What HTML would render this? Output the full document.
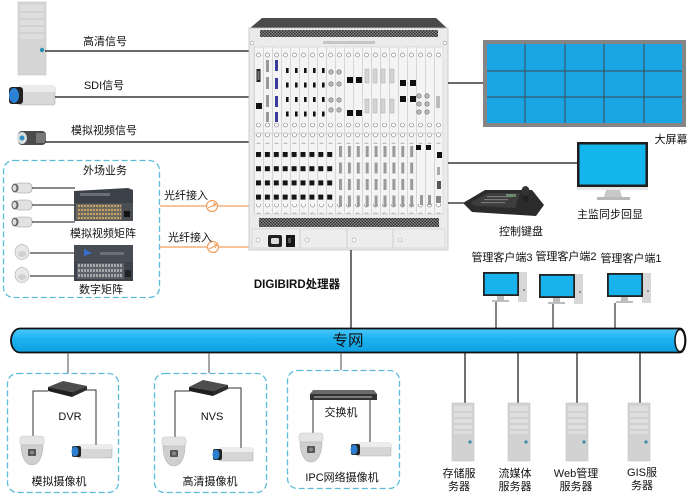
<!DOCTYPE html>
<html><head><meta charset="utf-8"><style>
html,body{margin:0;padding:0;background:#fff;}
svg{display:block;}
text{font-family:"Liberation Sans","Noto Sans CJK SC",sans-serif;font-size:11px;fill:#111;}
</style></head><body>
<svg width="693" height="500" viewBox="0 0 693 500" xmlns="http://www.w3.org/2000/svg">
<defs>
<pattern id="vent" width="3" height="3" patternUnits="userSpaceOnUse"><rect width="3" height="3" fill="#8a8a8a"/><rect width="1.5" height="1.5" fill="#2e2e2e"/><rect x="1.5" y="1.5" width="1.5" height="1.5" fill="#2e2e2e"/></pattern>
<pattern id="slots" x="254" y="0" width="9" height="10" patternUnits="userSpaceOnUse"><rect width="9" height="10" fill="#f4f4f4"/><rect width="0.8" height="10" fill="#cfcfcf"/></pattern>
<pattern id="screw" x="254" y="0" width="9" height="10" patternUnits="userSpaceOnUse"><circle cx="4.5" cy="5" r="2" fill="#fff" stroke="#8a8a8a" stroke-width="0.7"/></pattern>
<pattern id="bport" x="256" y="152" width="8.9" height="14.2" patternUnits="userSpaceOnUse"><rect width="5" height="5" fill="#151515"/></pattern>
<pattern id="dvi" x="339" y="146" width="8.9" height="16.5" patternUnits="userSpaceOnUse"><rect width="3" height="11" fill="#9a9a9a"/></pattern>
<pattern id="sport" x="286" y="68" width="9" height="14.5" patternUnits="userSpaceOnUse"><rect width="2.6" height="5" fill="#111"/></pattern>
<pattern id="mdots" x="78" y="205" width="3" height="4" patternUnits="userSpaceOnUse"><rect width="2" height="2" fill="#c9a064"/></pattern>
<pattern id="ddots" x="78" y="264" width="3" height="5" patternUnits="userSpaceOnUse"><rect width="2" height="3" fill="#a8a8a8"/></pattern>
<linearGradient id="pipe" x1="0" y1="0" x2="0" y2="1"><stop offset="0" stop-color="#4cc8fb"/><stop offset="0.45" stop-color="#1cb2f0"/><stop offset="1" stop-color="#0e9fe0"/></linearGradient>
<g id="server"><rect x="0" y="0" width="22" height="58" fill="#d2d2d2" stroke="#c4c4c4" stroke-width="0.6"/><rect x="2" y="3" width="18" height="28" fill="#dedede"/><line x1="2" y1="9" x2="20" y2="9" stroke="#c2c2c2"/><line x1="2" y1="15" x2="20" y2="15" stroke="#c2c2c2"/><line x1="2" y1="21" x2="20" y2="21" stroke="#c2c2c2"/><line x1="2" y1="27" x2="20" y2="27" stroke="#c2c2c2"/><circle cx="18" cy="39" r="1.6" fill="#3a8aa8"/></g>
<g id="dome"><rect x="0" y="0" width="24" height="9" rx="3" fill="#e4e4e4" stroke="#c8c8c8" stroke-width="0.6"/><path d="M1,9 H23 C23,22 18,29 12,29 C6,29 1,22 1,9 Z" fill="#cfcfcf" stroke="#b5b5b5" stroke-width="0.6"/><rect x="8" y="13" width="8" height="7" rx="1" fill="#555"/><circle cx="12" cy="16.5" r="2" fill="#888"/></g>
<g id="boxcam"><rect x="7" y="0" width="34" height="13" rx="1.5" fill="#d6d6d6" stroke="#b0b0b0" stroke-width="0.6"/><rect x="7" y="0" width="34" height="4" fill="#ececec"/><rect x="1" y="1" width="9" height="11" rx="2" fill="#222"/><ellipse cx="4" cy="6.5" rx="3.5" ry="5" fill="#2c7fd0"/></g>
<g id="client"><rect x="35" y="0" width="9" height="30" fill="#d8d8d8"/><circle cx="41" cy="18" r="1" fill="#777"/><rect x="0" y="0" width="36" height="24" fill="#222"/><rect x="1.8" y="1.8" width="32.4" height="20.4" fill="#18b2ec"/><rect x="14" y="24" width="7" height="4" fill="#bdbdbd"/><rect x="9" y="28" width="17" height="2" fill="#bdbdbd"/></g>
<g id="bullet"><rect x="4" y="0" width="17" height="10" rx="4" fill="#e2e2e2" stroke="#9a9a9a" stroke-width="0.6"/><ellipse cx="4" cy="5" rx="3.5" ry="4.5" fill="#666"/><ellipse cx="3.5" cy="5" rx="2" ry="3" fill="#ddd"/></g>
<g id="smalldome"><ellipse cx="7" cy="7" rx="7" ry="7.5" fill="#e8e8e8" stroke="#b5b5b5" stroke-width="0.7"/><ellipse cx="7" cy="9" rx="4" ry="3" fill="#d0d0d0"/></g>
</defs>

<!-- ===== Top-left sources ===== -->
<rect x="18" y="2" width="28" height="73" fill="#d5d5d5" stroke="#c3c3c3" stroke-width="0.6"/>
<rect x="20" y="5" width="24" height="34" fill="#dedede"/>
<line x1="20" y1="12" x2="44" y2="12" stroke="#c6c6c6"/><line x1="20" y1="19" x2="44" y2="19" stroke="#c6c6c6"/><line x1="20" y1="26" x2="44" y2="26" stroke="#c6c6c6"/><line x1="20" y1="33" x2="44" y2="33" stroke="#c6c6c6"/>
<circle cx="42" cy="50" r="2.2" fill="#2f8fb0"/>
<line x1="45" y1="51" x2="249" y2="51" stroke="#111" stroke-width="1.2"/>
<text x="105" y="42" text-anchor="middle" dominant-baseline="central">高清信号</text>

<rect x="18" y="86" width="37" height="19" rx="2" fill="#d8d8d8" stroke="#aaa" stroke-width="0.6"/>
<rect x="18" y="86" width="37" height="6" fill="#ececec"/>
<rect x="9" y="87" width="14" height="17" rx="3" fill="#222"/>
<ellipse cx="14" cy="95.5" rx="5" ry="7.5" fill="#2c82d4"/>
<line x1="55" y1="97" x2="249" y2="97" stroke="#111" stroke-width="1.2"/>
<text x="104" y="86" text-anchor="middle" dominant-baseline="central">SDI信号</text>

<rect x="18" y="131" width="28" height="14" rx="4" fill="#4b4b4b"/>
<rect x="36" y="133" width="10" height="10" fill="#777"/>
<ellipse cx="22" cy="138" rx="5" ry="6" fill="#d6dede"/>
<circle cx="22" cy="138" r="2.5" fill="#2e8fc0"/>
<line x1="45" y1="142" x2="249" y2="142" stroke="#111" stroke-width="1.2"/>
<text x="104" y="131" text-anchor="middle" dominant-baseline="central">模拟视频信号</text>

<!-- ===== Field box ===== -->
<rect x="3.5" y="160.5" width="156" height="137" rx="10" fill="none" stroke="#5bbdd6" stroke-width="1.3" stroke-dasharray="6 3"/>
<text x="105" y="171" text-anchor="middle" dominant-baseline="central">外场业务</text>
<use href="#bullet" x="11" y="183"/>
<use href="#bullet" x="11" y="200"/>
<use href="#bullet" x="11" y="217"/>
<line x1="32" y1="188" x2="75" y2="188" stroke="#111"/>
<line x1="32" y1="205" x2="75" y2="205" stroke="#111"/>
<line x1="32" y1="222" x2="75" y2="222" stroke="#111"/>
<!-- analog matrix -->
<polygon points="74,191 128,188 133,190 133,204 74,204" fill="#3c4048"/>
<rect x="80" y="193" width="30" height="3" fill="#6a6e76"/>
<rect x="74" y="203" width="59" height="18" fill="#4a4d52"/>
<rect x="76" y="204" width="46" height="16" fill="#6d6a62"/>
<rect x="78" y="205" width="43" height="14" fill="url(#mdots)"/>
<rect x="124" y="211" width="6" height="6" fill="#111"/>
<text x="103" y="234" text-anchor="middle" dominant-baseline="central">模拟视频矩阵</text>
<use href="#smalldome" x="15" y="245"/>
<use href="#smalldome" x="15" y="268"/>
<line x1="30" y1="253" x2="75" y2="253" stroke="#111"/>
<line x1="30" y1="276" x2="75" y2="276" stroke="#111"/>
<!-- digital matrix -->
<rect x="74" y="245" width="59" height="36" fill="#3e434b"/>
<rect x="74" y="245" width="59" height="17" fill="#474c55"/>
<polygon points="84,249 92,253 84,256" fill="#3a6fd0"/>
<rect x="100" y="252" width="24" height="3" fill="#6a6f78"/>
<rect x="77" y="263" width="47" height="16" fill="#5c6068"/>
<rect x="78" y="264" width="45" height="14" fill="url(#ddots)"/>
<rect x="125" y="270" width="6" height="7" fill="#222"/>
<text x="101" y="290" text-anchor="middle" dominant-baseline="central">数字矩阵</text>

<!-- fiber -->
<line x1="160" y1="206" x2="249" y2="206" stroke="#f0a060" stroke-width="1.3"/>
<line x1="160" y1="247" x2="249" y2="247" stroke="#f0a060" stroke-width="1.3"/>
<circle cx="212" cy="206" r="5.5" fill="#fff" stroke="#f0a060" stroke-width="1.2"/>
<line x1="208" y1="208" x2="216" y2="204" stroke="#f0a060" stroke-width="1.1"/><polyline points="213,203 216,204 214,207" fill="none" stroke="#f0a060"/>
<circle cx="213" cy="247" r="5.5" fill="#fff" stroke="#f0a060" stroke-width="1.2"/>
<line x1="209" y1="249" x2="217" y2="245" stroke="#f0a060" stroke-width="1.1"/><polyline points="214,244 217,245 215,248" fill="none" stroke="#f0a060"/>
<text x="186" y="196" text-anchor="middle" dominant-baseline="central">光纤接入</text>
<text x="190" y="238" text-anchor="middle" dominant-baseline="central">光纤接入</text>

<!-- ===== Processor ===== -->
<polygon points="262,18 436,18 448,29 249,29" fill="#4a4a4a"/>
<rect x="249" y="28" width="199" height="222" fill="#ebebeb" stroke="#c4c4c4" stroke-width="0.8"/>
<rect x="260" y="30" width="178" height="7" fill="url(#vent)"/>
<rect x="323" y="41" width="52" height="3" fill="#c6c6c6"/>
<circle cx="252" cy="43" r="1.8" fill="#fff" stroke="#999" stroke-width="0.6"/><circle cx="445" cy="43" r="1.8" fill="#fff" stroke="#999" stroke-width="0.6"/>
<rect x="254" y="47" width="189" height="86" fill="url(#slots)" stroke="#d0d0d0" stroke-width="0.6"/>
<rect x="254" y="134" width="189" height="80" fill="url(#slots)" stroke="#d0d0d0" stroke-width="0.6"/>
<rect x="254" y="48" width="189" height="10" fill="url(#screw)"/>
<rect x="254" y="123" width="189" height="10" fill="url(#screw)"/>
<rect x="254" y="134" width="189" height="10" fill="url(#screw)"/>
<rect x="254" y="204" width="189" height="10" fill="url(#screw)"/>
<!-- upper ports -->
<rect x="256.5" y="69" width="4" height="13" fill="#222"/><rect x="257.5" y="71" width="2" height="9" fill="#777"/>
<rect x="256" y="103" width="6" height="6" fill="#111"/>
<rect x="266" y="60" width="3" height="12" fill="#999"/><rect x="266" y="77" width="3" height="12" fill="#999"/><rect x="266" y="95" width="3" height="12" fill="#999"/><rect x="266" y="112" width="3" height="10" fill="#999"/>
<rect x="275" y="60" width="3" height="11" fill="#3b3b9c"/><rect x="275" y="78" width="3" height="11" fill="#3b3b9c"/><rect x="275" y="96" width="3" height="11" fill="#3b3b9c"/><rect x="275" y="112" width="3" height="10" fill="#3b3b9c"/>
<rect x="285" y="68" width="45" height="52" fill="url(#sport)"/>
<g fill="#bbb" stroke="#666" stroke-width="0.6"><circle cx="331" cy="72" r="2.2"/><circle cx="339" cy="72" r="2.2"/><circle cx="331" cy="84" r="2.2"/><circle cx="339" cy="84" r="2.2"/><circle cx="331" cy="100" r="2.2"/><circle cx="339" cy="100" r="2.2"/><circle cx="331" cy="110" r="2.2"/><circle cx="339" cy="110" r="2.2"/></g>
<rect x="347" y="77" width="6" height="6" fill="#111"/><rect x="356" y="77" width="6" height="6" fill="#111"/>
<rect x="347" y="110" width="6" height="6" fill="#111"/><rect x="356" y="110" width="6" height="6" fill="#111"/>
<g fill="#d4d4d4" stroke="#aaa" stroke-width="0.5"><rect x="365" y="69" width="4" height="14"/><rect x="373" y="69" width="4" height="14"/><rect x="381" y="69" width="4" height="14"/><rect x="390" y="69" width="4" height="14"/><rect x="365" y="99" width="4" height="14"/><rect x="373" y="99" width="4" height="14"/><rect x="381" y="99" width="4" height="14"/><rect x="390" y="99" width="4" height="14"/></g>
<rect x="400" y="80" width="6" height="6" fill="#111"/><rect x="410" y="80" width="6" height="6" fill="#111"/>
<rect x="400" y="96" width="6" height="6" fill="#111"/><rect x="410" y="96" width="6" height="6" fill="#111"/>
<g fill="#bbb" stroke="#666" stroke-width="0.6"><circle cx="419" cy="96" r="2.2"/><circle cx="427" cy="96" r="2.2"/><circle cx="419" cy="104" r="2.2"/><circle cx="427" cy="104" r="2.2"/><circle cx="419" cy="112" r="2.2"/><circle cx="427" cy="112" r="2.2"/></g>
<rect x="436" y="96" width="4" height="12" fill="#bbb"/>
<!-- lower ports -->
<rect x="256" y="152" width="80" height="50" fill="url(#bport)"/>
<rect x="339" y="146" width="77" height="62" fill="url(#dvi)"/>
<rect x="416" y="145" width="5" height="5" fill="#111"/><rect x="426" y="145" width="5" height="5" fill="#111"/>
<rect x="437" y="152" width="5" height="6" fill="#111"/><rect x="437" y="167" width="3" height="8" fill="#aaa"/><rect x="437" y="181" width="4" height="8" fill="#555"/><rect x="436" y="196" width="5" height="7" fill="#888"/>
<rect x="420" y="195" width="3" height="10" fill="#999"/><rect x="428" y="195" width="3" height="10" fill="#999"/>
<!-- bottom -->
<rect x="259" y="218" width="180" height="9" fill="url(#vent)"/>
<rect x="252" y="229" width="193" height="19" fill="#ededed" stroke="#d0d0d0" stroke-width="0.6"/>
<line x1="300" y1="229" x2="300" y2="248" stroke="#d0d0d0"/><line x1="347" y1="229" x2="347" y2="248" stroke="#d0d0d0"/><line x1="393" y1="229" x2="393" y2="248" stroke="#d0d0d0"/>
<rect x="268" y="235" width="14" height="12" rx="2" fill="#222"/><rect x="271" y="238" width="8" height="6" rx="1.5" fill="#ddd"/>
<rect x="286" y="235" width="9" height="12" fill="#151515"/><rect x="288" y="238" width="3" height="5" fill="#555"/>
<g fill="#fff" stroke="#999" stroke-width="0.6"><circle cx="258" cy="240" r="2"/><circle cx="307" cy="240" r="2"/><circle cx="354" cy="240" r="2"/><circle cx="400" cy="240" r="2"/></g>
<text x="297" y="285" text-anchor="middle" dominant-baseline="central" font-weight="bold" style="font-size:11.5px">DIGIBIRD处理器</text>
<line x1="351" y1="250" x2="351" y2="328" stroke="#111" stroke-width="1.2"/>

<!-- ===== Right side ===== -->
<line x1="448" y1="83" x2="483" y2="83" stroke="#111" stroke-width="1.2"/>
<rect x="483" y="40" width="203" height="87" fill="#858585"/>
<rect x="487" y="44" width="195" height="79" fill="#1aa6e4"/>
<g stroke="#3e4a55" stroke-width="1"><line x1="525" y1="44" x2="525" y2="123"/><line x1="565" y1="44" x2="565" y2="123"/><line x1="604" y1="44" x2="604" y2="123"/><line x1="644" y1="44" x2="644" y2="123"/><line x1="487" y1="71" x2="682" y2="71"/><line x1="487" y1="97" x2="682" y2="97"/></g>
<text x="671" y="140" text-anchor="middle" dominant-baseline="central">大屏幕</text>

<line x1="448" y1="163" x2="577" y2="163" stroke="#111" stroke-width="1.2"/>
<rect x="577" y="142" width="71" height="45" fill="#1e1e1e"/>
<rect x="579.5" y="144.5" width="66" height="40" fill="#14b4ec"/>
<rect x="577" y="187" width="71" height="3" fill="#e6e6e6"/>
<polygon points="606,190 620,190 622,197 604,197" fill="#c8c8c8"/>
<rect x="597" y="197" width="33" height="3" fill="#b8b8b8"/>
<text x="610" y="215" text-anchor="middle" dominant-baseline="central">主监同步回显</text>

<line x1="448" y1="203" x2="464" y2="203" stroke="#111" stroke-width="1.2"/>
<polygon points="463,203 485,190 532,190 544,205 536,216 472,212" fill="#2b2b2b"/>
<polygon points="470,203 488,193 520,193 515,208 476,206" fill="#3d3d3d"/>
<g fill="#777"><rect x="487" y="196" width="24" height="1.2"/><rect x="484" y="199" width="24" height="1.2"/><rect x="481" y="202" width="24" height="1.2"/></g>
<rect x="506" y="194" width="10" height="3" fill="#6c8a70"/>
<rect x="523" y="192" width="5" height="10" fill="#222"/>
<ellipse cx="525.5" cy="191" rx="4" ry="5" fill="#333"/>
<text x="521" y="232" text-anchor="middle" dominant-baseline="central">控制键盘</text>

<!-- clients -->
<text x="502" y="258" text-anchor="middle" dominant-baseline="central">管理客户端3</text>
<text x="566" y="257" text-anchor="middle" dominant-baseline="central">管理客户端2</text>
<text x="631" y="259" text-anchor="middle" dominant-baseline="central">管理客户端1</text>
<use href="#client" x="483" y="272"/>
<use href="#client" x="539" y="274"/>
<use href="#client" x="607" y="273"/>
<line x1="496" y1="302" x2="496" y2="328" stroke="#333" stroke-width="1.2"/>
<line x1="553" y1="304" x2="553" y2="328" stroke="#333" stroke-width="1.2"/>
<line x1="615" y1="303" x2="615" y2="328" stroke="#333" stroke-width="1.2"/>

<!-- ===== Pipe ===== -->
<path d="M20,328.5 H680 A5.5 12 0 0 1 680,352.5 H20 A9 12 0 0 1 20,328.5 Z" fill="url(#pipe)" stroke="#111" stroke-width="1.8"/>
<ellipse cx="680" cy="340.5" rx="5" ry="11" fill="#fff" stroke="#111" stroke-width="1.5"/>
<text x="348" y="341" text-anchor="middle" dominant-baseline="central" style="font-size:15.5px">专网</text>

<!-- ===== Bottom boxes ===== -->
<line x1="68" y1="353" x2="68" y2="373" stroke="#777" stroke-width="1.3"/>
<line x1="209" y1="353" x2="209" y2="373" stroke="#777" stroke-width="1.3"/>
<line x1="341" y1="353" x2="341" y2="370" stroke="#777" stroke-width="1.3"/>
<rect x="7.5" y="373.5" width="111" height="119" rx="10" fill="none" stroke="#5bbdd6" stroke-width="1.3" stroke-dasharray="6 3"/>
<rect x="154.5" y="373.5" width="112" height="119" rx="10" fill="none" stroke="#5bbdd6" stroke-width="1.3" stroke-dasharray="6 3"/>
<rect x="287.5" y="370.5" width="112" height="118" rx="10" fill="none" stroke="#5bbdd6" stroke-width="1.3" stroke-dasharray="6 3"/>

<!-- DVR -->
<polyline points="48,391 33,391 33,436" fill="none" stroke="#333"/>
<polyline points="86,390 96,390 96,446" fill="none" stroke="#333"/>
<polygon points="48,387 63,381 87,386 72,392" fill="#4d4d4d"/>
<polygon points="48,387 72,392 72,397 48,391" fill="#1f1f1f"/>
<polygon points="72,392 87,386 87,390 72,397" fill="#2c2c2c"/>
<text x="70" y="417" text-anchor="middle" dominant-baseline="central">DVR</text>
<use href="#dome" x="20" y="436"/>
<use href="#boxcam" x="71" y="445"/>
<text x="59" y="482" text-anchor="middle" dominant-baseline="central">模拟摄像机</text>

<!-- NVS -->
<polyline points="190,391 175,391 175,438" fill="none" stroke="#333"/>
<polyline points="227,388 241,388 241,448" fill="none" stroke="#333"/>
<polygon points="189,387 203,380 228,385 213,391" fill="#4d4d4d"/>
<polygon points="189,387 213,391 213,396 189,391" fill="#1f1f1f"/>
<polygon points="213,391 228,385 228,389 213,396" fill="#2c2c2c"/>
<text x="212" y="417" text-anchor="middle" dominant-baseline="central">NVS</text>
<use href="#dome" x="162" y="437"/>
<use href="#boxcam" x="212" y="448"/>
<text x="210" y="482" text-anchor="middle" dominant-baseline="central">高清摄像机</text>

<!-- Switch -->
<line x1="313" y1="398" x2="313" y2="434" stroke="#333"/>
<line x1="370" y1="398" x2="370" y2="442" stroke="#333"/>
<polygon points="313,390 374,390 377,394 310,394" fill="#6a6a6a"/>
<rect x="310" y="394" width="67" height="6" fill="#333"/>
<rect x="314" y="396" width="58" height="2" fill="#7a7a7a"/>
<text x="341" y="413" text-anchor="middle" dominant-baseline="central">交换机</text>
<use href="#dome" x="299" y="433"/>
<use href="#boxcam" x="350" y="443"/>
<text x="342" y="478" text-anchor="middle" dominant-baseline="central">IPC网络摄像机</text>

<!-- Servers -->
<line x1="465" y1="353" x2="465" y2="403" stroke="#111" stroke-width="1.2"/>
<line x1="518" y1="353" x2="518" y2="403" stroke="#111" stroke-width="1.2"/>
<line x1="577" y1="353" x2="577" y2="403" stroke="#111" stroke-width="1.2"/>
<line x1="640" y1="353" x2="640" y2="403" stroke="#111" stroke-width="1.2"/>
<use href="#server" x="452" y="403"/>
<use href="#server" x="508" y="403"/>
<use href="#server" x="566" y="403"/>
<use href="#server" x="628" y="403"/>
<text x="459" y="474" text-anchor="middle" dominant-baseline="central">存储服</text>
<text x="459" y="487" text-anchor="middle" dominant-baseline="central">务器</text>
<text x="515" y="474" text-anchor="middle" dominant-baseline="central">流媒体</text>
<text x="515" y="487" text-anchor="middle" dominant-baseline="central">服务器</text>
<text x="576" y="474" text-anchor="middle" dominant-baseline="central">Web管理</text>
<text x="576" y="487" text-anchor="middle" dominant-baseline="central">服务器</text>
<text x="642" y="473" text-anchor="middle" dominant-baseline="central">GIS服</text>
<text x="642" y="486" text-anchor="middle" dominant-baseline="central">务器</text>
</svg>
</body></html>
